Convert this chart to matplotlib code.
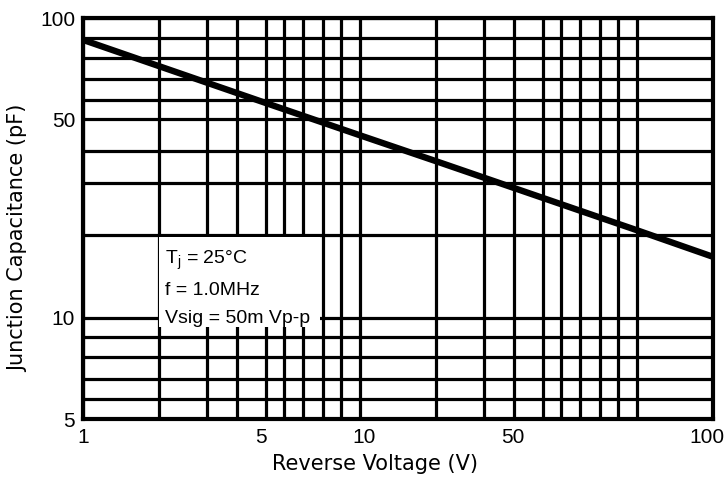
import numpy as np
import matplotlib
matplotlib.use("Agg")
import matplotlib.pyplot as plt
from matplotlib.patches import Rectangle

# gridlines of the printed paper (one decade pattern, a bit off from true log)
mantisa = [1, 2, 3, 4, 5, 6, 7, 8, 9, 10]
fraccion = [0, 0.275, 0.448, 0.556, 0.662, 0.728, 0.797, 0.868, 0.934, 1.0]

x_grid = [1, 2, 3, 4, 5, 6, 7, 8, 9, 10, 20, 30, 40, 50, 60, 70, 80, 90, 100, 200]
y_grid = [5, 6, 7, 8, 9, 10, 20, 30, 40, 50, 60, 70, 80, 90, 100]

# tick labels as printed (x labels sit where the datasheet put them)
x_tick_pos = [1, 4.83, 10.6, 39.8, 193]
x_tick_txt = ["1", "5", "10", "50", "100"]
y_tick_pos = [5, 10, 50, 100]
y_tick_txt = ["5", "10", "50", "100"]

# curve
voltaje = [1, 2, 5, 10, 20, 50, 100, 200]
capacidad = [89, 76, 58.2, 45, 36.9, 27.2, 21, 17.4]


def papel(v):
    v = np.asarray(v, dtype=float)
    v = np.where(v > 0, v, 1e-9)
    e = np.floor(np.log10(v))
    m = v / 10 ** e
    return e + np.interp(m, mantisa, fraccion)


def papel_inv(p):
    p = np.asarray(p, dtype=float)
    e = np.floor(p)
    return 10 ** e * np.interp(p - e, fraccion, mantisa)


fig = plt.figure(figsize=(7.28, 4.83), dpi=100)
ax = fig.add_axes([0.1136, 0.1325, 0.979 - 0.1136, 0.9627 - 0.1325])

ax.set_xscale("function", functions=(papel, papel_inv))
ax.set_yscale("function", functions=(papel, papel_inv))
ax.set_xlim(1, 200)
ax.set_ylim(5, 100)

for v in x_grid:
    ax.axvline(v, color="black", lw=2.3, zorder=1)
for v in y_grid:
    ax.axhline(v, color="black", lw=2.3, zorder=1)

# white box for the conditions
ax.add_patch(Rectangle((2.0, 9.55), 7.85 - 2.0, 19.76 - 9.55,
                       facecolor="white", edgecolor="none", zorder=2))
ax.text(2.12, 18.4, "T$_\\mathregular{j}$ = 25°C\nf = 1.0MHz\nVsig = 50m Vp-p",
        fontfamily="Liberation Sans", fontsize=14, va="top", ha="left",
        linespacing=1.8, zorder=3)

ax.plot(voltaje, capacidad, color="black", lw=4.6, solid_capstyle="butt", zorder=4)

ax.set_xticks(x_tick_pos, x_tick_txt)
ax.set_yticks(y_tick_pos, y_tick_txt)
ax.minorticks_off()
ax.tick_params(length=0, labelsize=15)
ax.tick_params(axis="x", pad=6.5)
ax.tick_params(axis="y", pad=5.5)
for t in ax.get_xticklabels() + ax.get_yticklabels():
    t.set_fontfamily("Liberation Sans")

for s in ax.spines.values():
    s.set_linewidth(3)
    s.set_color("black")

ax.set_xlabel("Reverse Voltage (V)", fontfamily="DejaVu Sans", fontsize=15)
ax.set_ylabel("Junction Capacitance (pF)", fontfamily="DejaVu Sans", fontsize=15)
ax.xaxis.set_label_coords(0.464, -0.087)
ax.yaxis.set_label_coords(-0.086, 0.45)

fig.savefig("out.png", dpi=100)
